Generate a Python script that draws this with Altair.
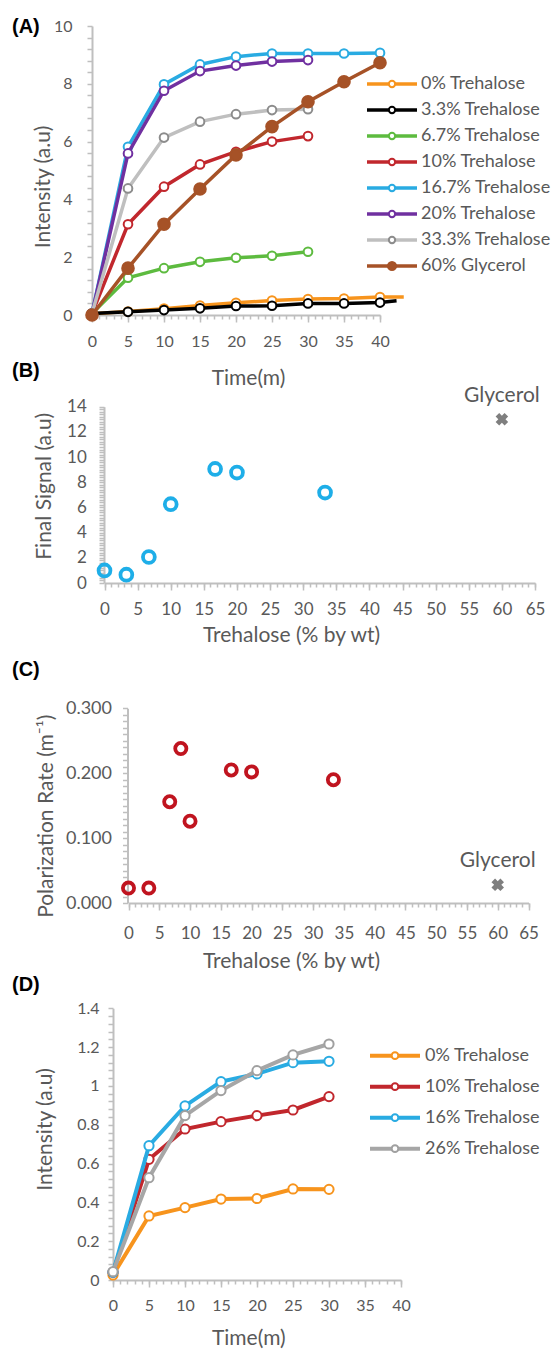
import altair as alt
import pandas as pd

FONT = "Lato"
TXT = "#595959"
AXC = "#BFBFBF"
W = 555

# ---------------- Panel A data ----------------
a_times = [0, 5, 10, 15, 20, 25, 30, 35, 40]
a_names = ["0% Trehalose", "3.3% Trehalose", "6.7% Trehalose", "10% Trehalose",
           "16.7% Trehalose", "20% Trehalose", "33.3% Trehalose", "60% Glycerol"]
a_colors = ["#F7941D", "#000000", "#5DBB3F", "#C1272D", "#29ABE2", "#7030A0", "#BFBFBF", "#A65227"]
a_marker_stroke = ["#F7941D", "#000000", "#5DBB3F", "#C1272D", "#29ABE2", "#7030A0", "#8C8C8C", "#A65227"]
a_marker_fill = ["white", "white", "white", "white", "white", "white", "white", "#A65227"]
a_values = [
    [0.04, 0.12, 0.22, 0.33, 0.42, 0.50, 0.55, 0.57, 0.62],
    [0.05, 0.11, 0.17, 0.23, 0.31, 0.32, 0.40, 0.40, 0.43],
    [0.05, 1.29, 1.62, 1.84, 1.98, 2.05, 2.19],
    [0.05, 3.14, 4.44, 5.21, 5.65, 6.00, 6.19],
    [0.05, 5.82, 7.98, 8.67, 8.94, 9.05, 9.05, 9.05, 9.07],
    [0.05, 5.59, 7.76, 8.44, 8.63, 8.77, 8.82],
    [0.05, 4.38, 6.14, 6.69, 6.95, 7.09, 7.12],
    [0.00, 1.62, 3.14, 4.36, 5.54, 6.52, 7.38, 8.07, 8.73],
]
a_tail_time = [43.3, 42.3, None, None, None, None, None, None]
a_tail_value = [0.62, 0.49, None, None, None, None, None, None]
a_x_major = [0, 5, 10, 15, 20, 25, 30, 35, 40]
a_x_minor = list(range(0, 41))
a_y_ticks = [round(0.4 * i, 1) for i in range(26)]

# ---------------- Panel B data ----------------
b_conc = [0, 3.3, 6.7, 10, 16.7, 20, 33.3]
b_signal = [1.0, 0.66, 2.06, 6.26, 9.06, 8.77, 7.18]
b_gly_conc = [60]
b_gly_signal = [13.0]
bc_x_major = list(range(0, 66, 5))
bc_x_minor = list(range(0, 66))
b_y_ticks = [round(0.2 * i, 1) for i in range(71)]

# ---------------- Panel C data ----------------
c_conc = [0, 3.3, 6.7, 8.5, 10, 16.7, 20, 33.3]
c_rate = [0.023, 0.023, 0.156, 0.238, 0.126, 0.205, 0.202, 0.190]
c_gly_conc = [60]
c_gly_rate = [0.028]
c_y_ticks = [round(0.01 * i, 2) for i in range(31)]

# ---------------- Panel D data ----------------
d_times = [0, 5, 10, 15, 20, 25, 30]
d_names = ["0% Trehalose", "10% Trehalose", "16% Trehalose", "26% Trehalose"]
d_colors = ["#F7941D", "#C1272D", "#29ABE2", "#A6A6A6"]
d_marker_stroke = ["#F7941D", "#C1272D", "#29ABE2", "#A0A0A0"]
d_marker_fill = ["white", "white", "white", "white"]
d_values = [
    [0.026, 0.33, 0.373, 0.417, 0.42, 0.469, 0.467],
    [0.04, 0.622, 0.778, 0.816, 0.847, 0.876, 0.945],
    [0.04, 0.692, 0.897, 1.022, 1.062, 1.12, 1.127],
    [0.043, 0.527, 0.847, 0.976, 1.079, 1.16, 1.216],
]
d_x_major = [0, 5, 10, 15, 20, 25, 30, 35, 40]
d_x_minor = list(range(0, 41))
d_y_ticks = [round(0.04 * i, 2) for i in range(36)]


# ---------------- helpers ----------------
def y_axis(values, expr, offset, pad, fsize, title, tx, ty):
    return alt.Axis(values=values, labelExpr=expr, offset=offset, tickSize=5,
                    tickColor=AXC, tickWidth=1.5, domainColor=AXC, domainWidth=2,
                    labelPadding=pad, labelFontSize=fsize, labelFont=FONT, labelColor=TXT,
                    labelOverlap=False, labelFlush=False, grid=False, orient="left",
                    title=title, titleX=tx, titleY=ty, titleAngle=270, titleAlign="center",
                    titleBaseline="middle", titleFont=FONT, titleFontSize=21,
                    titleFontWeight="normal", titleColor=TXT)


def x_major_axis(values, pad, fsize, title, tx, ty):
    return alt.Axis(values=values, format="~g", tickSize=7, tickColor=AXC, tickWidth=1.5,
                    domainColor=AXC, domainWidth=2, labelPadding=pad, labelBaseline="middle",
                    labelFontSize=fsize, labelFont=FONT, labelColor=TXT, labelOverlap=False,
                    labelFlush=False, grid=False, orient="bottom",
                    title=title, titleX=tx, titleY=ty, titleAngle=0, titleAlign="center",
                    titleBaseline="middle", titleFont=FONT, titleFontSize=21,
                    titleFontWeight="normal", titleColor=TXT)


def x_minor_axis(values):
    return alt.Axis(values=values, labels=False, domain=False, tickSize=4, tickColor=AXC,
                    tickWidth=1.5, grid=False, orient="bottom", title=None)


def series_layers(times, names, values, colors, mstroke, mfill, xs, ys, xmaj, xmin, yax,
                  lw, msize, fsize_big, tail_t=None, tail_v=None):
    layers = []
    for i, name in enumerate(names):
        vals = values[i]
        t = times[:len(vals)]
        lt, lv = list(t), list(vals)
        if tail_t is not None and tail_t[i] is not None:
            lt.append(tail_t[i])
            lv.append(tail_v[i])
        ldf = pd.DataFrame({"t": lt, "v": lv, "k": list(range(len(lt)))})
        pdf = pd.DataFrame({"t": t, "v": vals})
        line = alt.Chart(ldf).mark_line(color=colors[i], strokeWidth=lw).encode(
            x=alt.X("t:Q", scale=xs, axis=xmaj if i == 0 else None),
            y=alt.Y("v:Q", scale=ys, axis=yax if i == 0 else None),
            order="k:Q",
        )
        size = fsize_big if mfill[i] != "white" else msize
        pts = alt.Chart(pdf).mark_point(shape="circle", filled=True, fill=mfill[i],
                                        stroke=mstroke[i], strokeWidth=2, size=size,
                                        opacity=1).encode(
            x=alt.X("t:Q", scale=xs, axis=xmin if i == 0 else None),
            y=alt.Y("v:Q", scale=ys, axis=None),
        )
        layers += [line, pts]
    return layers


def legend_layers(names, colors, mstroke, mfill, x0, x1, xt, y0, dy, lw, msize, fsize):
    layers = []
    for i, name in enumerate(names):
        y = y0 + dy * i
        base = alt.Chart(pd.DataFrame({"name": [name]}))
        layers.append(base.mark_rule(color=colors[i], strokeWidth=lw).encode(
            x=alt.value(x0), x2=alt.value(x1), y=alt.value(y)))
        size = msize * 1.7 if mfill[i] != "white" else msize
        layers.append(base.mark_point(shape="circle", filled=True, fill=mfill[i],
                                      stroke=mstroke[i], strokeWidth=2, size=size,
                                      opacity=1).encode(
            x=alt.value((x0 + x1) / 2), y=alt.value(y)))
        layers.append(base.mark_text(align="left", baseline="middle", font=FONT,
                                     fontSize=fsize, color=TXT).encode(
            x=alt.value(xt), y=alt.value(y), text="name:N"))
    return layers


def panel_label(txt, y):
    return alt.Chart(pd.DataFrame({"l": [txt]})).mark_text(
        align="left", baseline="middle", font="Liberation Sans", fontWeight="bold",
        fontSize=20, color="#000000").encode(x=alt.value(12), y=alt.value(y), text="l:N")


# ---------------- Panel A ----------------
A_H = 315
ax_s = alt.Scale(domain=[0, 40], range=[92, 380], nice=False, zero=False)
ay_s = alt.Scale(domain=[0, 10], range=[315, 26], nice=False, zero=False)
a_layers = series_layers(
    a_times, a_names, a_values, a_colors, a_marker_stroke, a_marker_fill, ax_s, ay_s,
    x_major_axis(a_x_major, 19.7, 16, "Time(m)", 248, 63.3),
    x_minor_axis(a_x_minor),
    y_axis(a_y_ticks, "abs(datum.value/2 - round(datum.value/2)) < 1e-6 ? format(datum.value, '~g') : ''",
           -92, 15, 16, "Intensity (a.u)", -49, 186.5),
    3.5, 75, 135, a_tail_time, a_tail_value)
a_layers += legend_layers(a_names, a_colors, a_marker_stroke, a_marker_fill,
                          367, 417, 421, 84, 26, 3.5, 40, 18)
a_layers.append(panel_label("(A)", 27))
panel_a = alt.layer(*a_layers).resolve_axis(x="independent", y="independent").properties(
    width=W, height=A_H)

# ---------------- Panel B ----------------
B_H = 268
bx_s = alt.Scale(domain=[0, 65], range=[104.5, 535], nice=False, zero=False)
by_s = alt.Scale(domain=[0, 14], range=[268, 91.7], nice=False, zero=False)
bdf = pd.DataFrame({"c": b_conc, "s": b_signal})
bgdf = pd.DataFrame({"c": b_gly_conc, "s": b_gly_signal})
b_pts = alt.Chart(bdf).mark_point(shape="circle", filled=False, color="#1EAEE8",
                                  strokeWidth=3.8, size=140, opacity=1).encode(
    x=alt.X("c:Q", scale=bx_s, axis=x_major_axis(bc_x_major, 19.7, 17, "Trehalose (% by wt)", 291, 52)),
    y=alt.Y("s:Q", scale=by_s, axis=y_axis(
        b_y_ticks, "abs(datum.value/2 - round(datum.value/2)) < 1e-6 ? format(datum.value, '~g') : ''",
        -104, 12.7, 17, "Final Signal (a.u)", -59.8, 170.8)),
)
b_gly = alt.Chart(bgdf).mark_point(shape="cross", angle=45, filled=True, color="#7F7F7F",
                                   size=160, opacity=1).encode(
    x=alt.X("c:Q", scale=bx_s, axis=x_minor_axis(bc_x_minor)),
    y=alt.Y("s:Q", scale=by_s, axis=None),
)
b_gly_lbl = alt.Chart(bgdf).mark_text(text="Glycerol", dy=-23, font=FONT, fontSize=21,
                                      color=TXT).encode(
    x=alt.X("c:Q", scale=bx_s, axis=None),
    y=alt.Y("s:Q", scale=by_s, axis=None),
)
panel_b = alt.layer(b_pts, b_gly, b_gly_lbl, panel_label("(B)", 56)).resolve_axis(
    x="independent", y="independent").properties(width=W, height=B_H)

# ---------------- Panel C ----------------
C_H = 320
cx_s = alt.Scale(domain=[0, 65], range=[128.5, 528.5], nice=False, zero=False)
cy_s = alt.Scale(domain=[0, 0.3], range=[320, 125.3], nice=False, zero=False)
cdf = pd.DataFrame({"c": c_conc, "r": c_rate})
cgdf = pd.DataFrame({"c": c_gly_conc, "r": c_gly_rate})
c_pts = alt.Chart(cdf).mark_point(shape="circle", filled=False, color="#C0141F",
                                  strokeWidth=3.8, size=125, opacity=1).encode(
    x=alt.X("c:Q", scale=cx_s, axis=x_major_axis(bc_x_major, 23, 17, "Trehalose (% by wt)", 291, 58.7)),
    y=alt.Y("r:Q", scale=cy_s, axis=y_axis(
        c_y_ticks, "abs(datum.value*10 - round(datum.value*10)) < 1e-6 ? format(datum.value, '.3f') : ''",
        -127.5, 11, 18, "Polarization Rate (m\u207b\u00b9)", -81.5, 232.7)),
)
c_gly = alt.Chart(cgdf).mark_point(shape="cross", angle=45, filled=True, color="#7F7F7F",
                                   size=160, opacity=1).encode(
    x=alt.X("c:Q", scale=cx_s, axis=x_minor_axis(bc_x_minor)),
    y=alt.Y("r:Q", scale=cy_s, axis=None),
)
c_gly_lbl = alt.Chart(cgdf).mark_text(text="Glycerol", dy=-24, font=FONT, fontSize=21,
                                      color=TXT).encode(
    x=alt.X("c:Q", scale=cx_s, axis=None),
    y=alt.Y("r:Q", scale=cy_s, axis=None),
)
panel_c = alt.layer(c_pts, c_gly, c_gly_lbl, panel_label("(C)", 87)).resolve_axis(
    x="independent", y="independent").properties(width=W, height=C_H)

# ---------------- Panel D ----------------
D_H = 377
dx_s = alt.Scale(domain=[0, 40], range=[113, 401], nice=False, zero=False)
dy_s = alt.Scale(domain=[0, 1.4], range=[377, 105.3], nice=False, zero=False)
d_layers = series_layers(
    d_times, d_names, d_values, d_colors, d_marker_stroke, d_marker_fill, dx_s, dy_s,
    x_major_axis(d_x_major, 18, 16, "Time(m)", 248.3, 58.3),
    x_minor_axis(d_x_minor),
    y_axis(d_y_ticks, "abs(datum.value*5 - round(datum.value*5)) < 1e-6 ? format(datum.value, '~g') : ''",
           -113, 9, 16, "Intensity (a.u)", -68, 226),
    4, 85, 130)
d_layers += legend_layers(d_names, d_colors, d_marker_stroke, d_marker_fill,
                          370, 420, 425, 152.7, 31, 4, 45, 18)
d_layers.append(panel_label("(D)", 82))
panel_d = alt.layer(*d_layers).resolve_axis(x="independent", y="independent").properties(
    width=W, height=D_H)

chart = alt.vconcat(panel_a, panel_b, panel_c, panel_d, spacing=0, bounds="flush").properties(
    padding=0, background="white").configure_view(strokeWidth=0)

chart.save("out.html", embed_options={"renderer": "svg", "actions": False})
